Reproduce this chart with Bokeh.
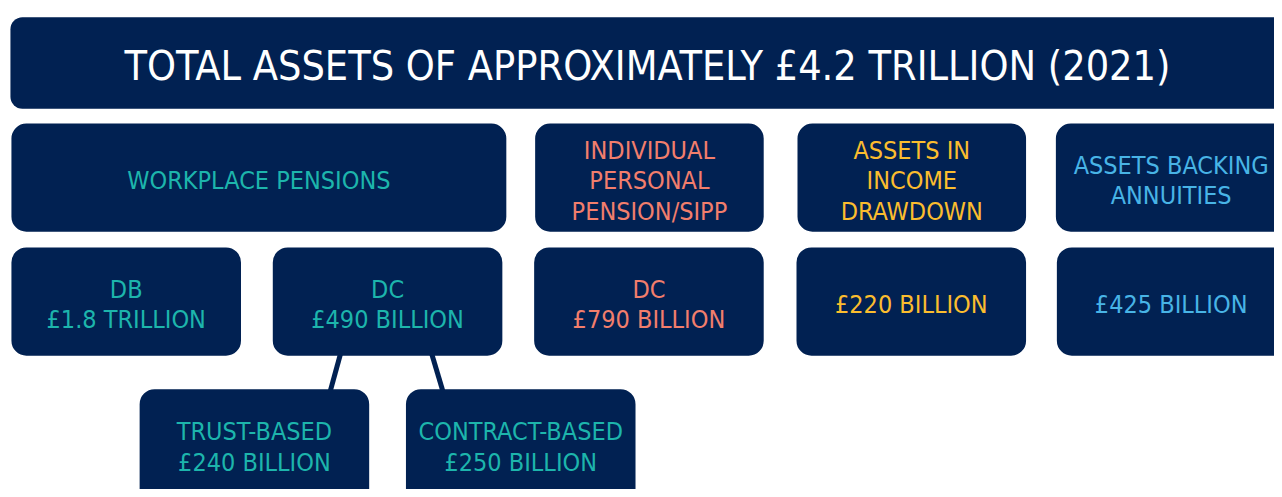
from bokeh.plotting import figure
from bokeh.models import Range1d, ColumnDataSource
from bokeh.core.properties import value
from bokeh.embed import file_html
from bokeh.resources import INLINE

# ---- content ----
title_text = "TOTAL ASSETS OF APPROXIMATELY £4.2 TRILLION (2021)"
categories = [["WORKPLACE PENSIONS"],
              ["INDIVIDUAL", "PERSONAL", "PENSION/SIPP"],
              ["ASSETS IN", "INCOME", "DRAWDOWN"],
              ["ASSETS BACKING", "ANNUITIES"]]
sub_types = [["DB", "£1.8 TRILLION"],
             ["DC", "£490 BILLION"],
             ["DC", "£790 BILLION"],
             ["£220 BILLION"],
             ["£425 BILLION"]]
dc_split = [["TRUST-BASED", "£240 BILLION"],
            ["CONTRACT-BASED", "£250 BILLION"]]

# ---- style ----
NAVY = "#012152"
TEAL = "#1db5ac"
SALMON = "#f27e6c"
YELLOW = "#fbbd2e"
BLUE = "#48b4e6"
FONT = value("'DejaVu Sans Condensed', 'Liberation Sans Narrow', 'Roboto', sans-serif")

# ---- layout (left, right, top, bottom) in reference pixels ----
title_box = (10, 1300, 17, 110)
cat_boxes = [(11, 509, 125, 235), (538, 768, 125, 235),
             (802, 1032, 125, 235), (1062, 1300, 125, 235)]
cat_colors = [TEAL, SALMON, YELLOW, BLUE]
sub_boxes = [(11, 242, 251, 361), (274, 505, 251, 361), (537, 768, 251, 361),
             (801, 1032, 251, 361), (1063, 1300, 251, 361)]
sub_colors = [TEAL, TEAL, SALMON, YELLOW, BLUE]
split_boxes = [(140, 371, 395, 520), (408, 639, 395, 520)]
split_colors = [TEAL, TEAL]
centers_x = [None] * 0
connectors = [((343, 361), (331, 395)), ((433, 361), (446, 395))]

W, H = 1274, 489
p = figure(width=W, height=H, output_backend="svg", toolbar_location=None,
           x_range=Range1d(0, 1282), y_range=Range1d(497, 0),
           min_border=0, outline_line_color=None, background_fill_color="white")
p.axis.visible = False
p.grid.visible = False

def add_boxes(boxes, radius):
    src = ColumnDataSource(dict(left=[b[0] for b in boxes], right=[b[1] for b in boxes],
                                top=[b[2] for b in boxes], bottom=[b[3] for b in boxes]))
    p.quad(left="left", right="right", top="top", bottom="bottom", source=src,
           fill_color=NAVY, line_color=None, border_radius=radius)

# connectors behind boxes
for (x0, y0), (x1, y1) in connectors:
    p.line([x0, x1], [y0 - 5, y1 + 5], line_color=NAVY, line_width=5)

add_boxes([title_box], 12)
add_boxes(cat_boxes, 15)
add_boxes(sub_boxes, 15)
add_boxes(split_boxes, 15)

LINE_H = 31

def add_texts(boxes, texts, colors, size, offset=3, cxs=None):
    xs, ys, ts, cs = [], [], [], []
    for k, (b, lines, c) in enumerate(zip(boxes, texts, colors)):
        cx = cxs[k] if cxs and cxs[k] is not None else (b[0] + b[1]) / 2
        cy = (b[2] + min(b[3], b[2] + 110)) / 2 + offset
        n = len(lines)
        for i, t in enumerate(lines):
            xs.append(cx)
            ys.append(cy + (i - (n - 1) / 2) * LINE_H)
            ts.append(t)
            cs.append(c)
    src = ColumnDataSource(dict(x=xs, y=ys, text=ts, color=cs))
    p.text(x="x", y="y", text="text", text_color="color", source=src,
           text_font=FONT, text_font_size=size, text_align="center",
           text_baseline="middle")

add_texts([title_box], [[title_text]], ["white"], "41px", offset=3, cxs=[651])
add_texts(cat_boxes, categories, cat_colors, "25px", cxs=[None, None, None, 1178])
add_texts(sub_boxes, sub_types, sub_colors, "25px", cxs=[None, None, None, None, 1178])
add_texts(split_boxes, dc_split, split_colors, "25px", offset=4)

open("out.html", "w").write(file_html(p, INLINE))
